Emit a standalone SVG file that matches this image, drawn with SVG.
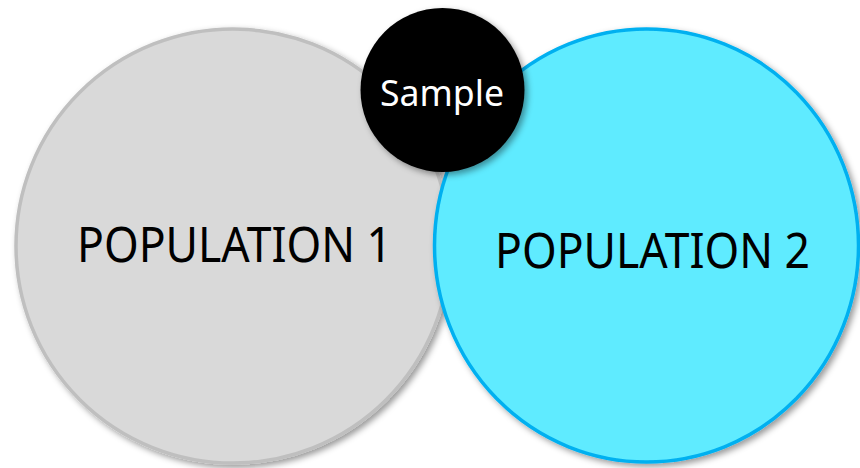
<svg xmlns="http://www.w3.org/2000/svg" width="860" height="468" viewBox="0 0 860 468">
  <defs>
    <filter id="shadow" x="-10%" y="-10%" width="125%" height="125%">
      <feDropShadow dx="3" dy="3" stdDeviation="3" flood-color="#000" flood-opacity="0.4"/>
    </filter>
    <style>
      .label { font-family: "Noto Sans", "Open Sans", "DejaVu Sans", sans-serif; text-anchor: middle; }
      .pop1 { fill: #D9D9D9; stroke: #BFBFBF; stroke-width: 3.5; }
      .pop2 { fill: #5FEBFF; stroke: #00B0F0; stroke-width: 3.5; }
      .sample { fill: #000000; }
    </style>
  </defs>
  <rect width="860" height="468" fill="#FFFFFF"/>

  <g id="population-1">
    <circle class="pop1" cx="233" cy="246" r="217" filter="url(#shadow)"/>
    <text class="label" x="234.5" y="262" font-size="50" fill="#000" textLength="315" lengthAdjust="spacingAndGlyphs">POPULATION 1</text>
  </g>

  <g id="population-2">
    <ellipse class="pop2" cx="646.5" cy="245.5" rx="212" ry="216.5" filter="url(#shadow)"/>
    <text class="label" x="652.5" y="268" font-size="49" fill="#000" textLength="315" lengthAdjust="spacingAndGlyphs">POPULATION 2</text>
  </g>

  <g id="sample">
    <circle class="sample" cx="442.5" cy="90" r="82" filter="url(#shadow)"/>
    <text class="label" x="442" y="106" font-size="37" fill="#FFF" textLength="124" lengthAdjust="spacingAndGlyphs">Sample</text>
  </g>
</svg>
